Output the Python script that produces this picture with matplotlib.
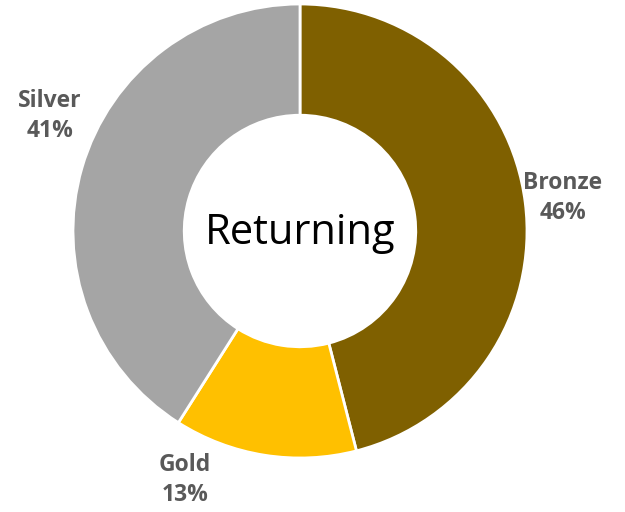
import matplotlib.pyplot as plt

labels = ["Bronze", "Gold", "Silver"]
shares = [46, 13, 41]
colors = ["#7F6000", "#FFC000", "#A5A5A5"]

plt.rcParams["font.family"] = ["Open Sans", "DejaVu Sans"]

fig = plt.figure(figsize=(6.25, 5.12), dpi=100)
ax = fig.add_axes([0, 0, 1, 1])

# pie in pixel-like units so the layout is easy to line up
cx, cy, r = 300, 281, 227
ax.pie(shares, colors=colors, startangle=90, counterclock=False,
       center=(cx, cy), radius=r,
       wedgeprops=dict(width=r * 0.49, edgecolor="white", linewidth=2))
ax.set_xlim(0, 625)
ax.set_ylim(0, 512)
ax.set_aspect("equal")
ax.axis("off")

ax.text(cx, cy - 2, "Returning", ha="center", va="center", fontsize=30, color="black")

label_pos = {"Bronze": (563, 314), "Gold": (185, 32), "Silver": (50, 396)}
for name, val in zip(labels, shares):
    x, y = label_pos[name]
    ax.text(x, y, f"{name}\n{val}%", ha="center", va="center", fontsize=16.5,
            fontweight="bold", color="#595959", linespacing=1.3)

fig.savefig("out.png", dpi=100)
